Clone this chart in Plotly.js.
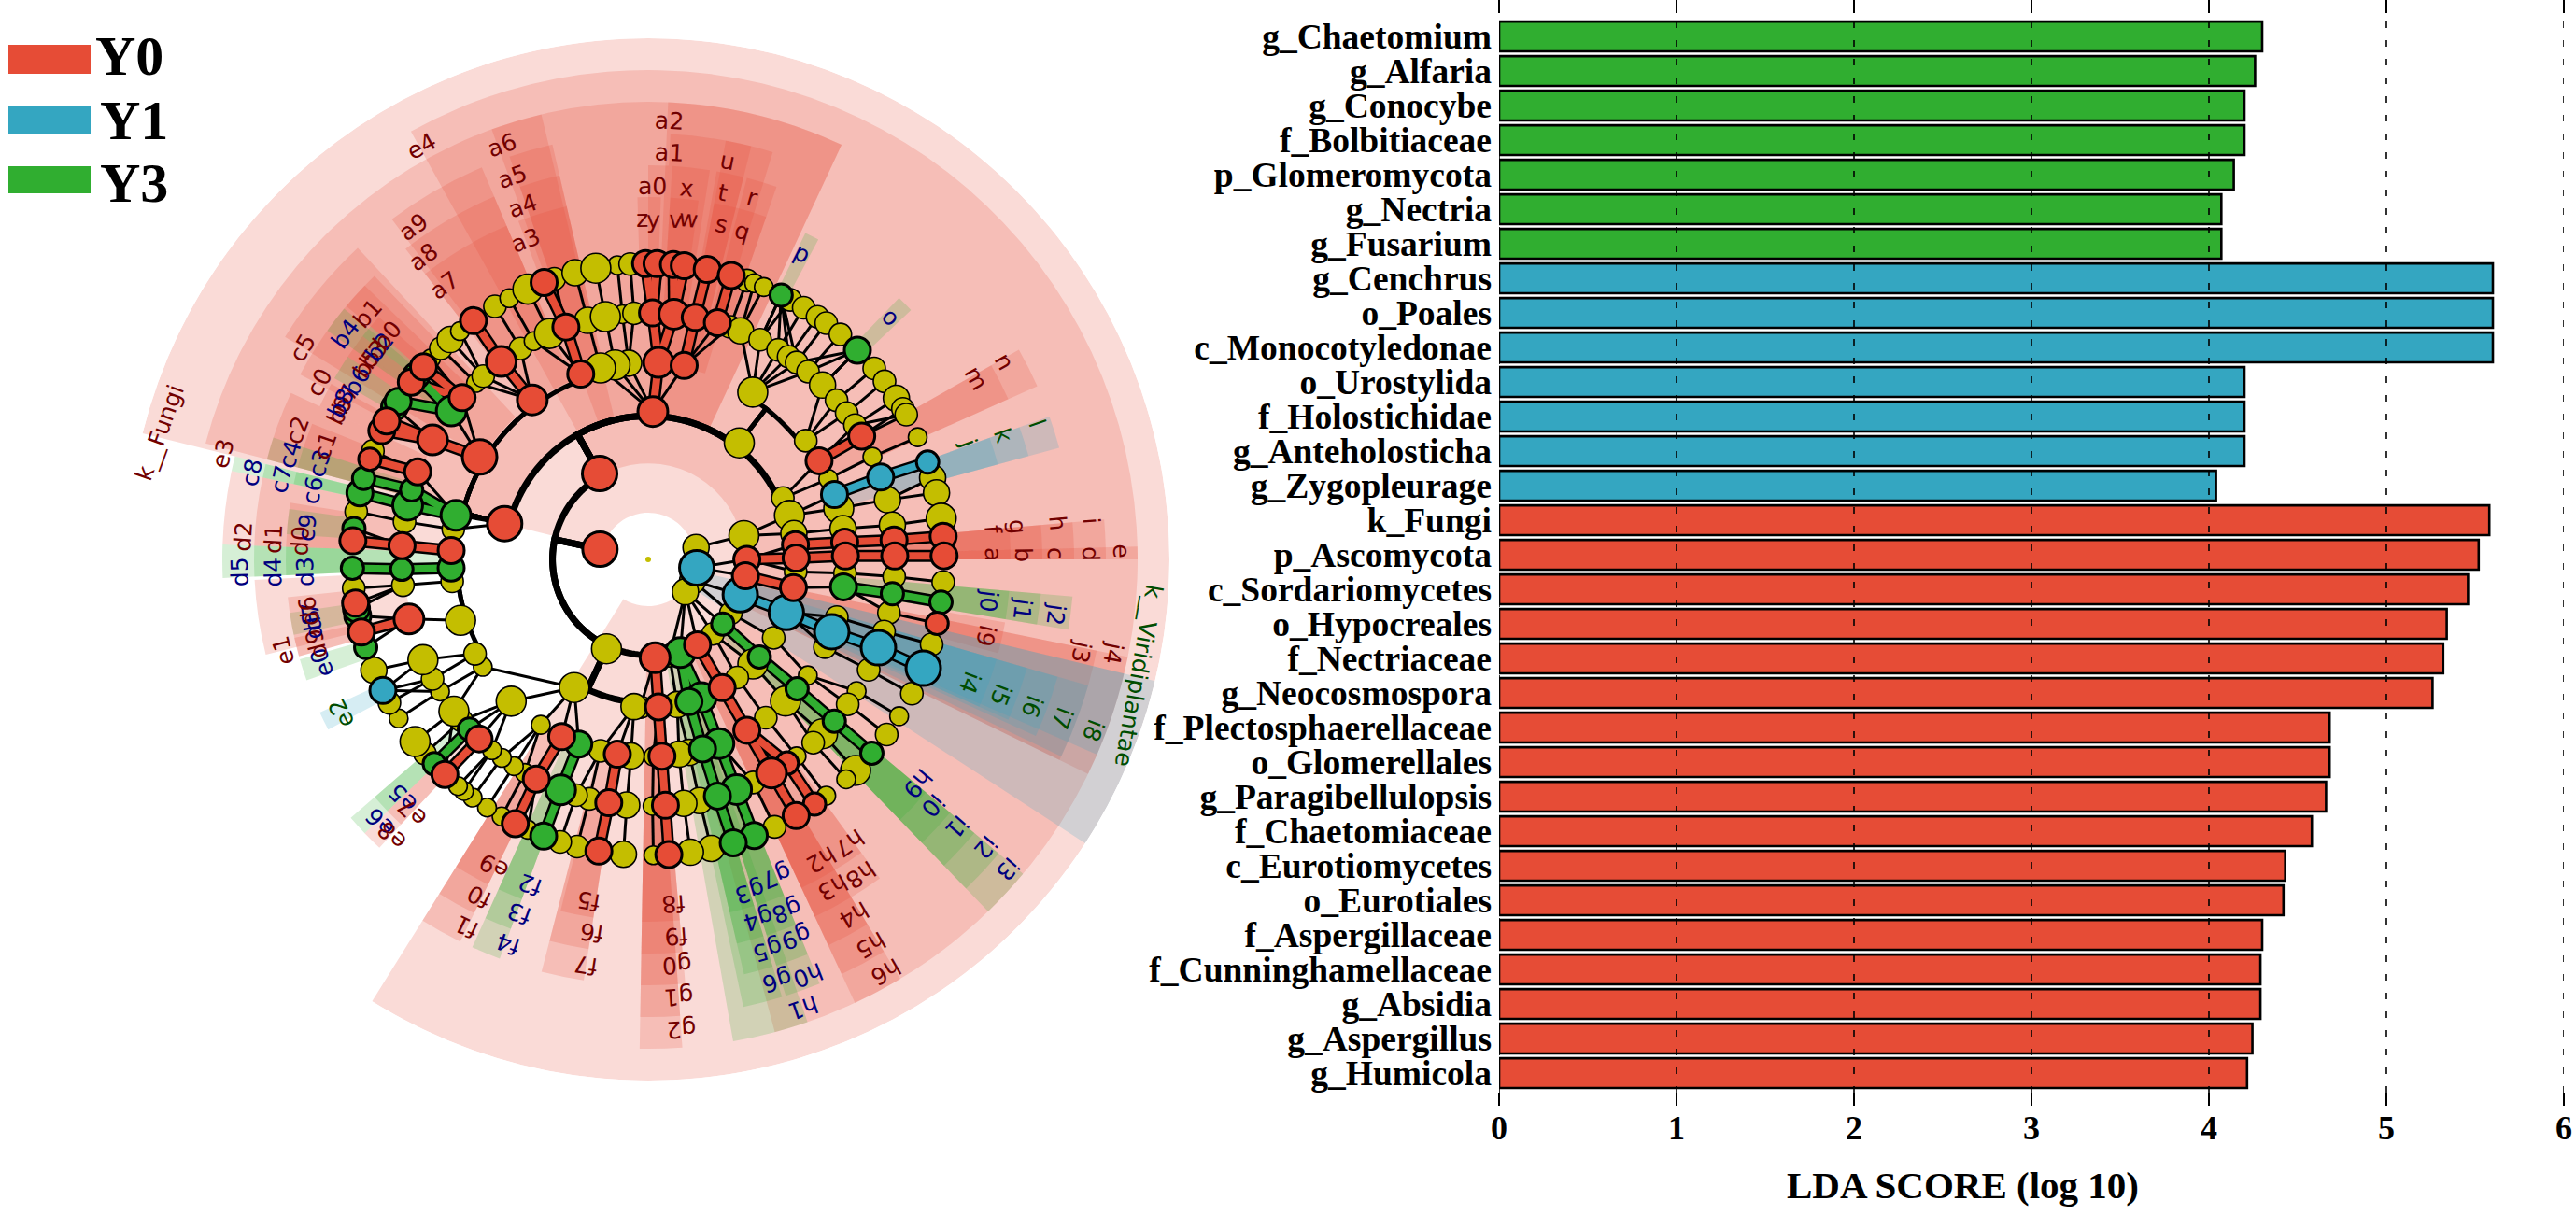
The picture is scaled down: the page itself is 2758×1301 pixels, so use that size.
<!DOCTYPE html>
<html><head><meta charset="utf-8">
<script src="https://cdn.plot.ly/plotly-3.0.1.min.js"></script>
<style>html,body{margin:0;padding:0;background:#fff}</style></head>
<body><div id="chart" style="width:2758px;height:1301px"></div>
<script>
// ---------- LDA bars ----------
const barNames = ['g_Chaetomium','g_Alfaria','g_Conocybe','f_Bolbitiaceae','p_Glomeromycota','g_Nectria','g_Fusarium',
 'g_Cenchrus','o_Poales','c_Monocotyledonae','o_Urostylida','f_Holostichidae','g_Anteholosticha','g_Zygopleurage',
 'k_Fungi','p_Ascomycota','c_Sordariomycetes','o_Hypocreales','f_Nectriaceae','g_Neocosmospora','f_Plectosphaerellaceae',
 'o_Glomerellales','g_Paragibellulopsis','f_Chaetomiaceae','c_Eurotiomycetes','o_Eurotiales','f_Aspergillaceae',
 'f_Cunninghamellaceae','g_Absidia','g_Aspergillus','g_Humicola'];
const barValues = [4.30,4.26,4.20,4.20,4.14,4.07,4.07,
 5.60,5.60,5.60,4.20,4.20,4.20,4.04,
 5.58,5.52,5.46,5.34,5.32,5.26,4.68,4.68,4.66,4.58,4.43,4.42,4.30,4.29,4.29,4.245,4.215];
const barGroups = ['g','g','g','g','g','g','g','b','b','b','b','b','b','b',
 'r','r','r','r','r','r','r','r','r','r','r','r','r','r','r','r','r'];
const scoreTicks = [0,1,2,3,4,5,6];
const legendNames = ['Y0','Y1','Y3'];

// ---------- cladogram clade labels: text, angle (deg clockwise from top), radius, group, clade arc start, clade arc end ----------
const cladeLabels = [
 ['k__Fungi',284.5,540,'r',284,212],
 ['e4',331.3,504,'r',331,165],['e3',284,469,'r',284.7,25],
 ['j3',102,474,'r',101.5,116],['j4',101.4,508,'r',101.5,116],['i9',102.8,371,'r',100,105],
 ['k__Viridiplantae',103.4,540,'b',103.5,123],
 ['a2',2.8,470,'r',2.5,25],['a1',2.9,436,'r',3,17],['a0',.6,400,'r',0,3],['z',359,365,'r',358.3,360],['y',.8,364,'r',0,2],
 ['v',4.7,365,'r',3.5,5.7],['w',6.7,367,'r',5.7,8],['x',6,400,'r',3.5,9],['u',11.3,435,'r',10.5,14],['t',11.5,401,'r',10,14],
 ['s',12.4,367,'r',10.5,14.5],['r',16,403,'r',14.5,19],['q',16,366,'r',14.5,19],['p',26.7,367,'g',25.7,28],['o',45,367,'g',43.8,46.5],
 ['n',61,436,'r',60.5,66],['m',61,401,'r',60.5,66],['l',70.7,441,'b',70.4,74.8],['k',70.8,402,'b',70.4,74.8],['j',70,365,'b',70.4,74.8],
 ['i',85,476,'r',85,88.5],['h',85,440,'r',85,88.5],['g',85,397,'r',85,88.5],['f',85,370,'r',85,88.5],
 ['e',89,507,'r',88.5,90],['d',89.3,474,'r',88.5,90],['c',89.2,436,'r',88.5,90],['b',89.3,402,'r',88.5,90],['a',89.2,369,'r',88.5,90],
 ['j0',97,367,'g',95,99.5],['j1',97.5,404,'g',95,99.5],['j2',97.7,440,'g',95,99.5],
 ['i4',111,369,'b',106,114],['i5',111,405,'b',106,114],['i6',111,440,'b',106,114.5],['i7',111,475,'b',106,115.5],['i8',111,510,'b',103.5,113.5],
 ['h9',129.7,375,'g',130,136],['i0',130.8,403,'g',130,136],['i1',131,437,'g',130,136],['i2',130.5,474,'g',130,136],['i3',130.7,508,'g',130,136],
 ['h7',144.7,372,'r',144,149],['h8',146,407,'r',144,149],
 ['h2',150,371,'r',149,155],['h3',150.7,403,'r',149,155],['h4',150,440,'r',149,155],['h5',150,477,'r',149,155],['h6',150,509,'r',149,155],
 ['g7',158,366,'g',158,162.5],['g8',158.5,404,'g',158,162.5],['g9',158.6,435,'g',158,162.5],['h0',159,477,'g',158,162.5],['h1',161,508,'g',161,170],
 ['g3',163,372,'g',163,167],['g4',163,403,'g',163,167],['g5',163,437,'g',163,167],['g6',163,472,'g',163,168],
 ['f8',175.8,370,'r',175,181],['f9',175.8,404,'r',175,181],['g0',176,435,'r',175,181],['g1',176,469,'r',176,181],['g2',176,504,'r',176,181],
 ['f5',189.9,371,'r',188.7,194],['f6',188.7,404,'r',188.7,194.5],['f7',188.8,439,'r',188.7,194.5],
 ['f2',200,370,'g',200.4,204.4],['f3',200,403,'g',200.4,204.4],['f4',200,438,'g',200.4,204.4],
 ['e9',206.6,368,'r',206.2,212],['f0',206.6,404,'r',206.2,212],['f1',206.4,439,'r',206.2,212],
 ['e5',225.7,366,'g',226,229],['e6',225.6,402,'g',226,229],['e7',223,370,'r',223,226],['e8',222.8,403,'r',223,226],
 ['e2',243.3,367,'b',242,245],['e0',252.4,366,'g',250.5,254],['e1',255.9,402,'r',256,267],
 ['d9',255.8,366,'r',254.5,257.5],['d8',259,366,'g',258,260],['d7',260.4,366,'g',260,261.5],['d6',261.4,368,'r',254.5,264],
 ['d5',268.3,437,'g',267.5,272],['d4',268.1,402,'g',267.5,272],['d3',268,367,'g',267.5,272],
 ['d2',273.2,434,'r',272,282],['d1',273.1,402,'r',272,282],['d0',273,373,'r',272,279],['c9',275.3,367,'g',274,278],
 ['c8',282.4,434,'g',282,284],['c7',282.4,402,'g',282,284],['c6',281.6,367,'g',282,284],
 ['c4',286.4,400,'g',284.7,288],['c3',286.3,367,'g',284.7,288],['c2',290.2,400,'r',284.7,295],['c1',289.4,367,'r',288,292],
 ['c0',298.3,400,'r',298,316],['c5',301.5,434,'r',301.5,317],
 ['b9',295.8,367,'r',295,297],['b7',297.9,367,'r',297,299],['b8',297,369,'g',300,302],['b6',301.6,366,'g',302,304],
 ['b5',305,367,'r',304,306],['b3',306.8,367,'r',306,308],['b2',308.4,367,'g',308,310],['b0',310.6,368,'r',310,312],
 ['b4',306.7,404,'g',305.5,309.5],['b1',311.3,399,'r',310,314],
 ['a9',324.7,436,'r',323,337],['a8',323.3,403,'r',322,337],['a7',323.4,366,'r',322,337],
 ['a6',340.6,470,'r',340,346.5],['a5',340.4,435,'r',341,347],['a4',340.5,402,'r',341,347],['a3',339,366,'r',339,347]
];
const tiltedLabels = {'k__Fungi':-70,'k__Viridiplantae':100};

// ---------- cladogram nodes per taxonomic ring: angle, group, abundance class ----------
const ring1 = [[282,'r',5],[99.8,'b',5],[76,'y',3],[115.6,'y',3],[131,'y',3]];
const ring2 = [[330.5,'r',5],[90,'r',3],[99.6,'r',3],[76,'y',4],[111,'b',5],[123,'y',2],[130.9,'g',2],[139,'y',2],[150,'r',3],[161,'g',4],[167.5,'y',2],[176,'r',4],[205,'y',4]];
const ring3 = [[284,'r',5],[1.8,'r',4],[38,'y',4],[65.5,'y',2],[72.7,'y',4],[79.9,'y',3],[84.3,'r',3],[89.5,'r',3],[94.8,'y',2],[101,'r',3],[111,'b',5],[122,'y',2],[131.3,'g',2],[135,'y',4],[143,'y',2],[150,'r',3],[159,'g',4],[164,'g',3],[168.7,'y',3],[176,'r',3],[183,'y',2],[185.5,'y',3],[210,'y',4]];
const ring4 = [[354.3,'y',3],[350.3,'y',4],[346,'y',4],[3,'r',4],[10.5,'r',3],[32,'y',4],[53,'y',2],[60,'r',3],[65.9,'y',1],[70.8,'b',3],[75,'y',4],[81,'y',3],[85,'r',3],[89,'r',3],[94,'y',2],[98,'g',3],[107,'y',2],[111.5,'b',5],[116.4,'y',2],[126,'y',1],[131,'g',2],[135.9,'y',4],[143.4,'y',2],[150,'r',3],[159,'g',4],[164,'g',3],[168,'y',3],[171,'y',3],[176,'r',3],[178.5,'y',1],[185,'y',3],[189,'r',3],[194,'y',2],[200.6,'g',3],[206,'r',3],[213,'y',1],[224,'y',4],[237,'y',1],[241.4,'y',2],[252,'y',4],[263.6,'y',2],[267.5,'g',3],[272.6,'r',3],[278.8,'y',2],[282.9,'g',4],[301.3,'r',5],[324,'r',4],[340,'r',3]];
const ring5 = [[354,'y',1],[356.7,'y',2],[1,'r',3],[6,'r',4],[11,'r',3],[16.3,'r',3],[19.4,'y',2],[22,'y',3],[27,'y',2],[31.8,'y',2],[34.7,'y',2],[37,'y',2],[40.4,'y',2],[45,'y',3],[49.8,'y',2],[53.6,'y',2],[57,'y',2],[60,'r',3],[65.4,'y',1],[70.5,'b',3],[76,'y',3],[82,'y',3],[85.5,'r',3],[89.2,'r',3],[94,'y',2],[98,'g',2],[102.5,'y',2],[107,'y',2],[111,'b',5],[116.6,'y',2],[122.3,'y',1],[126,'y',2],[131,'g',2],[135,'y',4],[138,'y',2],[143,'y',1],[145.7,'r',2],[150,'r',4],[154.8,'y',2],[159,'g',4],[163.7,'g',3],[168,'y',3],[171.7,'y',3],[176,'r',3],[179,'y',1],[185,'y',3],[189.2,'r',3],[193.8,'y',2],[197,'y',2],[200.8,'g',4],[207,'r',3],[210,'y',1],[213,'y',1],[216.4,'y',1],[219.3,'y',1],[223.3,'r',3],[226.5,'g',2],[229.2,'y',2],[232,'y',4],[237.6,'y',1],[241,'y',2],[246,'y',4],[256,'r',4],[264,'y',2],[267.7,'g',2],[273.2,'r',3],[278.8,'y',2],[282.7,'g',4],[286.4,'g',2],[290.8,'r',3],[299,'r',4],[307,'g',4],[311,'r',3],[315.7,'y',1],[318,'y',2],[323.4,'r',4],[328.8,'y',2],[332.3,'y',1],[336.4,'y',4],[340.5,'r',3],[345.8,'y',3],[350,'y',4]];
const ring6 = [[354,'y',1],[356.5,'y',2],[359.5,'r',3],[1.7,'r',3],[3,'y',2],[4.9,'r',3],[7,'r',3],[11.5,'r',3],[16.3,'r',3],[19.5,'y',2],[21,'y',1],[23,'y',1],[26.7,'g',2],[28.7,'y',2],[31.7,'y',2],[34.9,'y',2],[37,'y',2],[40.5,'y',2],[45,'g',3],[49.8,'y',2],[53,'y',2],[57,'y',3],[59.4,'y',2],[60.7,'y',2],[65.6,'y',1],[70.8,'b',2],[74,'y',3],[77,'y',3],[82,'y',4],[85.5,'r',3],[89.3,'r',3],[94.4,'y',2],[98.3,'g',2],[102.5,'r',2],[106.7,'y',2],[111.6,'b',5],[117,'y',2],[122,'y',1],[126.3,'y',2],[130.9,'g',2],[135.5,'y',4],[138,'y',1],[143,'y',1],[145.8,'r',2],[150,'r',3],[154.7,'y',2],[159,'g',3],[163.3,'g',3],[167.7,'y',3],[171.8,'y',3],[176,'r',3],[179,'y',1],[184.8,'y',3],[189.6,'r',3],[193.9,'y',2],[197.3,'y',2],[200.7,'g',3],[204,'y',1],[206.7,'r',3],[209.7,'y',1],[213,'y',1],[216.4,'y',1],[218.5,'y',1],[220,'y',1],[223.4,'r',3],[226.3,'g',2],[229,'y',2],[232,'y',4],[237.5,'y',1],[241,'y',2],[243.7,'b',3],[248,'y',3],[252.7,'g',2],[255.8,'r',3],[259,'g',3],[260.4,'g',3],[261.5,'r',3],[264.4,'y',2],[268.3,'g',2],[273.6,'r',3],[276,'g',2],[279.3,'y',2],[283,'g',3],[285.9,'g',2],[289.8,'r',2],[291.5,'y',2],[295.8,'r',3],[297.9,'r',3],[301,'g',3],[302.3,'g',3],[306.8,'r',3],[308.4,'g',3],[310.6,'r',3],[312.8,'y',1],[315.5,'y',2],[318,'y',3],[320.5,'y',1],[323.8,'r',3],[328.8,'y',2],[332,'y',1],[336,'y',4],[339.4,'r',3],[341.5,'y',2],[345.7,'y',3],[349.8,'y',4]];
// heavy arcs: child ring, parent angle, child angle
const trunkEdges = [[2,282,330.5],[2,282,205],[2,282,176],
 [3,330.5,284],[3,330.5,1.8],[3,330.5,38],[3,330.5,65.5],[3,205,210],[3,205,185.5],
 [4,284,301.3],[4,284,324],[4,284,340],[4,284,272.6],[4,284,267.5],[4,284,263.6],[4,284,252],[4,284,241.4],[4,38,32],[4,38,53]];
// extra fine links: child ring, child angle, parent angle
const fanEdges = [[6,26.7,27],[6,26.7,31.8],[6,26.7,34.7],[6,26.7,37],[6,45,40.4],[6,45,37],[6,45,45],[6,60.7,57],[6,243.7,241],[6,243.7,237.6],[6,223.4,232]];

// ---------- styles ----------
const colors = {r:'#E64C36',b:'#34A6C1',g:'#30AE30',y:'#C4BE00'};
const washes = {r:'rgba(230,76,54,0.2)',b:'rgba(52,166,193,0.2)',g:'rgba(48,174,48,0.2)'};
const textInk = {r:'#720000',b:'#004d00',g:'#00007f'};
const dotSize = {1:20,2:24,3:28,4:32,5:37};
const W=2758,H=1301,CX=694,CY=599,R=558,STEP=52.8;
const serif='"Liberation Serif","Times New Roman",serif';
const rings=[null,ring1,ring2,ring3,ring4,ring5,ring6];
const ringR=l=>STEP*l;

// clade wedges
function lvl(r){return Math.max(0,Math.min(5,Math.round((r-367)/34.5)));}
const wedge=cladeLabels.map(row=>{const[,,r,g,a,bIn]=row;const b=bIn<a?bIn+360:bIn;const i=lvl(r);
 const inner=317-52.8*i-3,outer=388+34*i;return{theta:(a+b)/2,width:b-a,base:inner,r:outer-inner,color:washes[g]};});
const traces=[{type:'barpolar',subplot:'polar',theta:wedge.map(w=>w.theta),width:wedge.map(w=>w.width),base:wedge.map(w=>w.base),r:wedge.map(w=>w.r),
 marker:{color:wedge.map(w=>w.color),line:{width:0}},hoverinfo:'skip',showlegend:false}];

// edges
function delta(a,b){let d=(b-a)%360;if(d>180)d-=360;if(d<-180)d+=360;return d;}
const isTrunk=(l,t)=>trunkEdges.some(e=>e[0]===l&&e[2]===t);
const thin={r:[],t:[]},band={};
function seg(bucket,rs,ts){bucket.r.push(...rs,null);bucket.t.push(...ts,null);}
const thick=[];
trunkEdges.forEach(([l,p,c])=>{const rs=[ringR(l-1),ringR(l)*0.97],ts=[p,p],d=delta(p,c),n=Math.max(2,Math.ceil(Math.abs(d)/2));
 for(let i=0;i<=n;i++){rs.push(ringR(l)*0.97);ts.push(p+d*i/n);} rs.push(ringR(l));ts.push(c);
 thick.push({r:rs,t:ts,w:l===4?5:7});});
for(let l=2;l<=6;l++){rings[l].forEach(([t,g])=>{
 if(isTrunk(l,t))return;const up=rings[l-1];let best=null,bd=1e9;
 up.forEach(n=>{const d=Math.abs(delta(n[0],t));if(d<bd){bd=d;best=n;}});
 if(g!=='y'){let s=null,sd=1e9;up.forEach(n=>{if(n[1]===g){const d=Math.abs(delta(n[0],t));if(d<sd){sd=d;s=n;}}});
  if(s&&sd<5){(band[g]=band[g]||{r:[],t:[]});seg(band[g],[ringR(l-1),ringR(l)],[s[0],t]);return;}}
 seg(thin,[ringR(l-1),ringR(l)],[best[0],t]);});}
fanEdges.forEach(([l,c,p])=>seg(thin,[ringR(l-1),ringR(l)],[p,c]));
const lineTrace=(b,w,c)=>({type:'scatterpolar',subplot:'polar',mode:'lines',r:b.r,theta:b.t,line:{color:c,width:w},hoverinfo:'skip',showlegend:false});
traces.push(lineTrace(thin,3,'#000'));
thick.forEach(b=>traces.push(lineTrace(b,b.w,'#000')));
Object.keys(band).forEach(g=>traces.push(lineTrace(band[g],13,'#000')));
Object.keys(band).forEach(g=>traces.push(lineTrace(band[g],8,colors[g])));

// nodes
['y','b','g','r'].forEach(g=>{const rr=[],tt=[],ss=[];
 for(let l=1;l<=6;l++)rings[l].forEach(n=>{if(n[1]===g){rr.push(ringR(l));tt.push(n[0]);ss.push(dotSize[n[2]]);}});
 traces.push({type:'scatterpolar',subplot:'polar',mode:'markers',r:rr,theta:tt,marker:{color:colors[g],opacity:1,size:ss,line:{color:'#000',width:g==='y'?1.6:3}},hoverinfo:'skip',showlegend:false});});
traces.push({type:'scatterpolar',subplot:'polar',mode:'markers',r:[0],theta:[0],marker:{color:colors.y,opacity:1,size:6,line:{width:0}},hoverinfo:'skip',showlegend:false});

// bars
traces.push({type:'bar',orientation:'h',y:barNames,x:barValues,xaxis:'x',yaxis:'y',width:0.86,
 marker:{color:barGroups.map(g=>colors[g]),line:{color:'#000',width:2.6}},hoverinfo:'skip',showlegend:false});

const ann=cladeLabels.map(([txt,t,r,g])=>{const a=t*Math.PI/180;let ang=tiltedLabels[txt]!==undefined?tiltedLabels[txt]:(t>180?t-360:t);
 return{xref:'x2',yref:'y2',x:r*Math.sin(a),y:r*Math.cos(a),text:txt,textangle:ang,showarrow:false,xanchor:'center',yanchor:'middle',
 font:{family:'"DejaVu Sans",sans-serif',size:25,color:textInk[g]}};});
ann.push({xref:'paper',yref:'paper',x:2101/W,y:1-1269/H,text:'LDA SCORE (log 10)',showarrow:false,xanchor:'center',yanchor:'middle',
 font:{family:serif,size:41,weight:700,color:'#000'}});
const legendRows=[[48,79,60],[113,143,129],[178,207,196]];
const shapes=[];
legendNames.forEach((n,i)=>{const g=['r','b','g'][i],[a,b,m]=legendRows[i];
 shapes.push({type:'rect',xref:'paper',yref:'paper',x0:9/W,x1:97/W,y0:1-b/H,y1:1-a/H,fillcolor:colors[g],line:{width:0},layer:'above'});
 ann.push({xref:'paper',yref:'paper',x:(i===0?100:105)/W,y:1-m/H,text:n,showarrow:false,xanchor:'left',yanchor:'middle',font:{family:serif,size:60,weight:700,color:'#000'}});});
scoreTicks.forEach(t=>shapes.push({type:'line',xref:'x',yref:'paper',x0:t,x1:t,y0:1-1170/H,y1:1-16/H,line:{color:'#000',width:1.6,dash:'7px,13px'},layer:'above'}));

const layout={width:W,height:H,margin:{l:0,r:0,t:0,b:0},paper_bgcolor:'#fff',plot_bgcolor:'rgba(0,0,0,0)',showlegend:false,barmode:'overlay',
 polar:{domain:{x:[(CX-R)/W,(CX+R)/W],y:[(H-CY-R)/H,(H-CY+R)/H]},bgcolor:'rgba(0,0,0,0)',barmode:'overlay',
  radialaxis:{visible:false,range:[0,R]},angularaxis:{visible:false,rotation:90,direction:'clockwise',thetaunit:'degrees'}},
 xaxis:{domain:[1605/W,2745/W],range:[0,6],anchor:'y',tickvals:scoreTicks,ticks:'outside',ticklen:14,tickwidth:1.6,tickcolor:'#000',mirror:'ticks',showline:false,showgrid:false,zeroline:false,
  tickfont:{family:serif,size:36,weight:700,color:'#000'},ticklabelstandoff:-7},
 yaxis:{domain:[1-1169/H,1-15/H],type:'category',range:[30.54,-0.65],anchor:'x',ticks:'',showline:false,showgrid:false,zeroline:false,
  tickfont:{family:serif,size:37.5,weight:700,color:'#000'},tickmode:'array',tickvals:barNames,ticktext:barNames,ticklabelstandoff:7,automargin:false},
 xaxis2:{domain:[(CX-R)/W,(CX+R)/W],range:[-R,R],anchor:'y2',visible:false,fixedrange:true},
 yaxis2:{domain:[(H-CY-R)/H,(H-CY+R)/H],range:[-R,R],anchor:'x2',visible:false,fixedrange:true},
 annotations:ann,shapes:shapes};
Plotly.newPlot('chart',traces,layout,{displayModeBar:false,staticPlot:true});
</script></body></html>
